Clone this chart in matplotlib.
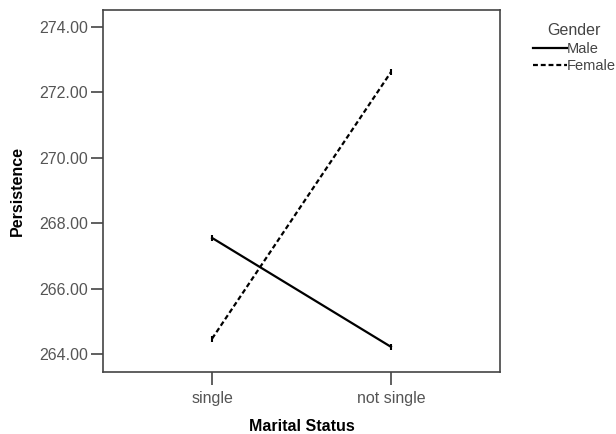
import matplotlib.pyplot as plt

plt.rcParams['font.family'] = ['Liberation Sans', 'DejaVu Sans']

# estimated marginal means
categories = ['single', 'not single']
male = [267.55, 264.22]
female = [264.47, 272.62]
yticks = [264, 266, 268, 270, 272, 274]

fig = plt.figure(figsize=(6.16, 4.34), dpi=100)
ax = fig.add_axes([103/616, 1 - 372/434, 397/616, 362/434])

x = range(len(categories))
ax.plot(x, male, color='black', lw=1.6, ls='-', marker='|', ms=5, mew=1.5, label='Male')
ax.plot(x, female, color='black', lw=1.6, ls=(0, (2.2, 1.3)), marker='|', ms=5, mew=1.5, label='Female')

ax.set_xlim(-0.61, 1.61)
ax.set_ylim(263.45, 274.52)
ax.set_xticks(list(x))
ax.set_xticklabels(categories)
ax.set_yticks(yticks)
ax.set_yticklabels(['%.2f' % v for v in yticks])
ax.tick_params(colors='#444444', labelsize=11.5, length=9, width=1.2, labelcolor='#555555')
ax.tick_params(axis='x', pad=5)
ax.tick_params(axis='y', pad=2)
for s in ax.spines.values():
    s.set_color('#444444')
    s.set_linewidth(1.2)

ax.set_xlabel('Marital Status', fontsize=11.5, fontweight='bold', labelpad=9)
ax.set_ylabel('Persistence', fontsize=11.5, fontweight='bold', labelpad=10)

leg = fig.legend(loc='upper left', bbox_to_anchor=(533/616, 1 - 23/434), frameon=False,
                 title='Gender', fontsize=10.5, title_fontsize=11.5, handlelength=2.3,
                 handletextpad=0.0, labelspacing=0.25, borderpad=0, borderaxespad=0)
for t in leg.get_texts():
    t.set_color('#444444')
leg.get_title().set_color('#444444')
for h in leg.legend_handles:
    h.set_marker('')

fig.savefig('out.png', dpi=100)
